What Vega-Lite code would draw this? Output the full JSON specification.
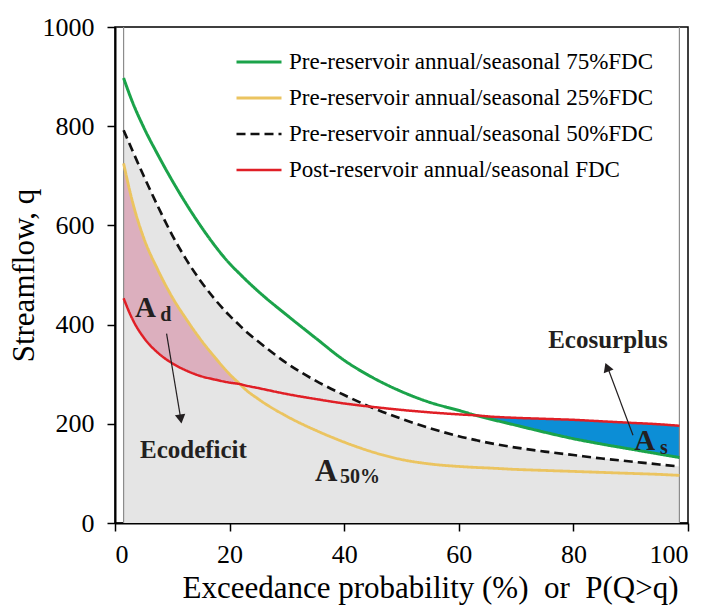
{
  "$schema": "https://vega.github.io/schema/vega-lite/v6.json",
  "width": 573,
  "height": 496,
  "autosize": "none",
  "padding": {"left": 115, "top": 27, "right": 22, "bottom": 83},
  "background": "white",
  "config": {
    "font": "Liberation Serif",
    "style": {"guide-label": {"font": "Liberation Serif"}, "guide-title": {"font": "Liberation Serif"}},
    "view": {"stroke": "black", "strokeWidth": 1.5},
    "axis": {
      "grid": false,
      "labelFont": "Liberation Serif",
      "titleFont": "Liberation Serif",
      "labelFontSize": 26,
      "labelFontWeight": "normal",
      "titleFontSize": 31,
      "titleFontWeight": "normal",
      "labelColor": "black",
      "titleColor": "black",
      "domainColor": "black",
      "tickColor": "black",
      "domainWidth": 2,
      "tickWidth": 1.5,
      "tickSize": 8
    },
    "text": {"font": "Liberation Serif", "fontWeight": "bold", "color": "#231F20"}
  },
  "datasets": {
    "fdc": [
      {"x": 1.5, "G": 897, "Y": 725, "M": 792, "R": 453},
      {"x": 3, "G": 850, "Y": 650, "M": 752, "R": 412},
      {"x": 5, "G": 798, "Y": 575, "M": 700, "R": 374},
      {"x": 7.5, "G": 742, "Y": 510, "M": 638, "R": 343},
      {"x": 10, "G": 690, "Y": 455, "M": 580, "R": 322},
      {"x": 12.5, "G": 642, "Y": 410, "M": 530, "R": 307},
      {"x": 15, "G": 598, "Y": 369, "M": 487, "R": 296},
      {"x": 17.5, "G": 558, "Y": 333, "M": 450, "R": 289},
      {"x": 20, "G": 523, "Y": 300, "M": 418, "R": 283},
      {"x": 21.8, "G": 502, "Y": 280, "M": 398, "R": 280},
      {"x": 22.5, "G": 494, "Y": 272, "M": 390, "R": 278},
      {"x": 25, "G": 467, "Y": 250, "M": 366, "R": 272},
      {"x": 30, "G": 419, "Y": 215, "M": 322, "R": 260},
      {"x": 35, "G": 373, "Y": 187, "M": 287, "R": 250},
      {"x": 40, "G": 328, "Y": 163, "M": 258, "R": 241},
      {"x": 45, "G": 293, "Y": 143, "M": 232, "R": 234},
      {"x": 50, "G": 265, "Y": 128, "M": 210, "R": 228},
      {"x": 55, "G": 243, "Y": 119, "M": 191, "R": 223},
      {"x": 60, "G": 227, "Y": 114, "M": 175, "R": 219},
      {"x": 63, "G": 217, "Y": 112, "M": 167, "R": 217},
      {"x": 65, "G": 211, "Y": 111, "M": 162, "R": 215},
      {"x": 70, "G": 197, "Y": 108, "M": 152, "R": 212},
      {"x": 75, "G": 183, "Y": 106, "M": 144, "R": 210},
      {"x": 80, "G": 170, "Y": 104, "M": 137, "R": 208},
      {"x": 85, "G": 159, "Y": 102, "M": 130, "R": 205},
      {"x": 90, "G": 149, "Y": 100, "M": 124, "R": 202},
      {"x": 95, "G": 139, "Y": 98, "M": 118, "R": 199},
      {"x": 98.5, "G": 132, "Y": 96, "M": 114, "R": 196}
    ],
    "edges": [{"x": 1.5}, {"x": 98.5}],
    "bigA": [
      {"x": 3.5, "q": 414.7, "t": "A"},
      {"x": 90.6, "q": 147.2, "t": "A"}
    ],
    "bigA50": [{"x": 34.9, "q": 85.3, "t": "A"}],
    "subs": [
      {"x": 7.9, "q": 407.9, "t": "d"},
      {"x": 95.1, "q": 139, "t": "s"},
      {"x": 39.27, "q": 80, "t": "50%"}
    ],
    "notes": [
      {"x": 4.36, "q": 130.4, "t": "Ecodeficit"},
      {"x": 75.6, "q": 352.2, "t": "Ecosurplus"}
    ],
    "arrows": [
      {"x": 9.0, "q": 382, "x2": 11.45, "q2": 212},
      {"x": 90.4, "q": 177, "x2": 85.9, "q2": 316}
    ],
    "heads": [
      {"name": "d", "x": 11.48, "q": 209.7},
      {"name": "s", "x": 85.87, "q": 314}
    ]
  },
  "layer": [
    {
      "data": {"name": "fdc"},
      "mark": {"type": "area", "color": "#E5E5E5", "interpolate": "monotone"},
      "encoding": {
        "x": {
          "field": "x", "type": "quantitative",
          "scale": {"domain": [0, 100], "nice": false},
          "title": "Exceedance probability (%)\u00a0\u00a0or\u00a0\u00a0P(Q>q)",
          "axis": {
            "values": [0, 20, 40, 60, 80, 100], "format": "d",
            "labelFont": "Liberation Serif", "titleFont": "Liberation Serif",
            "labelPadding": 10, "titleX": 315, "titlePadding": 6
          }
        },
        "y": {
          "field": "M", "type": "quantitative",
          "scale": {"domain": [0, 1000], "nice": false},
          "title": "Streamflow, q",
          "axis": {
            "values": [0, 200, 400, 600, 800, 1000], "format": "d",
            "labelFont": "Liberation Serif", "titleFont": "Liberation Serif",
            "labelPadding": 13, "titlePadding": 2
          }
        },
        "y2": {"datum": 0}
      }
    },
    {
      "data": {"name": "fdc"},
      "transform": [{"filter": "datum.x <= 21.8"}],
      "mark": {"type": "area", "color": "#DCAFBE", "interpolate": "monotone"},
      "encoding": {
        "x": {"field": "x", "type": "quantitative", "title": "Exceedance probability (%)\u00a0\u00a0or\u00a0\u00a0P(Q>q)"},
        "y": {"field": "Y", "type": "quantitative", "title": "Streamflow, q"},
        "y2": {"field": "R"}
      }
    },
    {
      "data": {"name": "fdc"},
      "transform": [{"filter": "datum.x >= 63"}],
      "mark": {"type": "area", "color": "#0C8ED6", "interpolate": "monotone"},
      "encoding": {
        "x": {"field": "x", "type": "quantitative", "title": "Exceedance probability (%)\u00a0\u00a0or\u00a0\u00a0P(Q>q)"},
        "y": {"field": "R", "type": "quantitative", "title": "Streamflow, q"},
        "y2": {"field": "G"}
      }
    },
    {
      "data": {"name": "edges"},
      "mark": {"type": "rule", "color": "#8C8C8C", "strokeWidth": 1.2},
      "encoding": {
        "x": {"field": "x", "type": "quantitative", "title": "Exceedance probability (%)\u00a0\u00a0or\u00a0\u00a0P(Q>q)"}
      }
    },
    {
      "data": {"name": "fdc"},
      "transform": [{"fold": ["G", "Y", "M", "R"], "as": ["series", "q"]}],
      "mark": {"type": "line", "interpolate": "monotone"},
      "encoding": {
        "x": {"field": "x", "type": "quantitative", "title": "Exceedance probability (%)\u00a0\u00a0or\u00a0\u00a0P(Q>q)"},
        "y": {"field": "q", "type": "quantitative", "title": "Streamflow, q"},
        "color": {
          "field": "series", "type": "nominal",
          "scale": {"domain": ["G", "Y", "M", "R"], "range": ["#1BA34A", "#EBC460", "#111111", "#E01F26"]},
          "legend": {
            "title": null, "orient": "none", "legendX": 120, "legendY": 11, "padding": 0,
            "symbolType": "stroke", "symbolSize": 2025,
            "labelFont": "Liberation Serif", "labelFontSize": 23, "labelColor": "black",
            "labelOffset": 6, "rowPadding": -20, "labelLimit": 500,
            "labelExpr": "datum.label == 'G' ? 'Pre-reservoir annual/seasonal 75%FDC' : datum.label == 'Y' ? 'Pre-reservoir annual/seasonal 25%FDC' : datum.label == 'M' ? 'Pre-reservoir annual/seasonal 50%FDC' : 'Post-reservoir annual/seasonal FDC'"
          }
        },
        "strokeDash": {
          "field": "series", "type": "nominal",
          "scale": {"domain": ["G", "Y", "M", "R"], "range": [[1, 0], [1, 0], [9, 5], [1, 0]]},
          "legend": {
            "title": null, "orient": "none", "legendX": 120, "legendY": 11, "padding": 0,
            "symbolType": "stroke", "symbolSize": 2025,
            "labelFont": "Liberation Serif", "labelFontSize": 23, "labelColor": "black",
            "labelOffset": 6, "rowPadding": -20, "labelLimit": 500,
            "labelExpr": "datum.label == 'G' ? 'Pre-reservoir annual/seasonal 75%FDC' : datum.label == 'Y' ? 'Pre-reservoir annual/seasonal 25%FDC' : datum.label == 'M' ? 'Pre-reservoir annual/seasonal 50%FDC' : 'Post-reservoir annual/seasonal FDC'"
          }
        },
        "strokeWidth": {
          "field": "series", "type": "nominal",
          "scale": {"domain": ["G", "Y", "M", "R"], "range": [3, 2.5, 4, 4.5]},
          "legend": {
            "title": null, "orient": "none", "legendX": 120, "legendY": 11, "padding": 0,
            "symbolType": "stroke", "symbolSize": 2025,
            "labelFont": "Liberation Serif", "labelFontSize": 23, "labelColor": "black",
            "labelOffset": 6, "rowPadding": -20, "labelLimit": 500,
            "labelExpr": "datum.label == 'G' ? 'Pre-reservoir annual/seasonal 75%FDC' : datum.label == 'Y' ? 'Pre-reservoir annual/seasonal 25%FDC' : datum.label == 'M' ? 'Pre-reservoir annual/seasonal 50%FDC' : 'Post-reservoir annual/seasonal FDC'"
          }
        }
      }
    },
    {
      "data": {"name": "arrows"},
      "mark": {"type": "rule", "color": "#231F20", "strokeWidth": 1.2},
      "encoding": {
        "x": {"field": "x", "type": "quantitative", "title": "Exceedance probability (%)\u00a0\u00a0or\u00a0\u00a0P(Q>q)"},
        "y": {"field": "q", "type": "quantitative", "title": "Streamflow, q"},
        "x2": {"field": "x2"},
        "y2": {"field": "q2"}
      }
    },
    {
      "data": {"name": "heads"},
      "transform": [{"filter": "datum.name == 'd'"}],
      "mark": {"type": "point", "shape": "triangle-down", "filled": true, "color": "#231F20", "size": 110, "angle": 351, "opacity": 1},
      "encoding": {
        "x": {"field": "x", "type": "quantitative", "title": "Exceedance probability (%)\u00a0\u00a0or\u00a0\u00a0P(Q>q)"},
        "y": {"field": "q", "type": "quantitative", "title": "Streamflow, q"}
      }
    },
    {
      "data": {"name": "heads"},
      "transform": [{"filter": "datum.name == 's'"}],
      "mark": {"type": "point", "shape": "triangle-up", "filled": true, "color": "#231F20", "size": 110, "angle": 339, "opacity": 1},
      "encoding": {
        "x": {"field": "x", "type": "quantitative", "title": "Exceedance probability (%)\u00a0\u00a0or\u00a0\u00a0P(Q>q)"},
        "y": {"field": "q", "type": "quantitative", "title": "Streamflow, q"}
      }
    },
    {
      "data": {"name": "bigA"},
      "mark": {"type": "text", "fontSize": 29, "align": "left", "baseline": "alphabetic"},
      "encoding": {
        "x": {"field": "x", "type": "quantitative", "title": "Exceedance probability (%)\u00a0\u00a0or\u00a0\u00a0P(Q>q)"},
        "y": {"field": "q", "type": "quantitative", "title": "Streamflow, q"},
        "text": {"field": "t"}
      }
    },
    {
      "data": {"name": "bigA50"},
      "mark": {"type": "text", "fontSize": 31, "align": "left", "baseline": "alphabetic"},
      "encoding": {
        "x": {"field": "x", "type": "quantitative", "title": "Exceedance probability (%)\u00a0\u00a0or\u00a0\u00a0P(Q>q)"},
        "y": {"field": "q", "type": "quantitative", "title": "Streamflow, q"},
        "text": {"field": "t"}
      }
    },
    {
      "data": {"name": "subs"},
      "mark": {"type": "text", "fontSize": 20, "align": "left", "baseline": "alphabetic"},
      "encoding": {
        "x": {"field": "x", "type": "quantitative", "title": "Exceedance probability (%)\u00a0\u00a0or\u00a0\u00a0P(Q>q)"},
        "y": {"field": "q", "type": "quantitative", "title": "Streamflow, q"},
        "text": {"field": "t"}
      }
    },
    {
      "data": {"name": "notes"},
      "mark": {"type": "text", "fontSize": 25, "align": "left", "baseline": "alphabetic"},
      "encoding": {
        "x": {"field": "x", "type": "quantitative", "title": "Exceedance probability (%)\u00a0\u00a0or\u00a0\u00a0P(Q>q)"},
        "y": {"field": "q", "type": "quantitative", "title": "Streamflow, q"},
        "text": {"field": "t"}
      }
    }
  ]
}
